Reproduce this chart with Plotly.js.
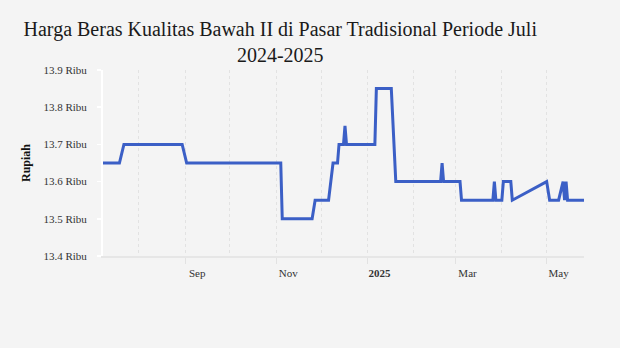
<!DOCTYPE html>
<html>
<head>
<meta charset="utf-8">
<script src="https://cdn.plot.ly/plotly-3.0.1.min.js"></script>
<style>html,body{margin:0;padding:0;background:#f4f4f4;}#chart{width:620px;height:348px;}</style>
</head>
<body>
<div id="chart"></div>
<script>
const dates = [
  "2024-07-08","2024-07-19","2024-07-22","2024-08-30","2024-09-02","2024-11-04","2024-11-05",
  "2024-11-25","2024-11-27","2024-12-06","2024-12-09","2024-12-12","2024-12-13","2024-12-16",
  "2024-12-17","2024-12-18","2025-01-06","2025-01-07","2025-01-17","2025-01-20","2025-02-19",
  "2025-02-20","2025-02-21","2025-03-04","2025-03-05","2025-03-26","2025-03-27","2025-03-28",
  "2025-04-01","2025-04-02","2025-04-07","2025-04-08","2025-05-01","2025-05-03","2025-05-09",
  "2025-05-12","2025-05-13","2025-05-14","2025-05-15","2025-05-26"
];
const prices = [
  13650,13650,13700,13700,13650,13650,13500,
  13500,13550,13550,13650,13650,13700,13700,
  13750,13700,13700,13850,13850,13600,13600,
  13650,13600,13600,13550,13550,13600,13550,
  13550,13600,13600,13550,13600,13550,13550,
  13600,13550,13600,13550,13550
];
const xTickVals = ["2024-09-01","2024-11-01","2025-01-01","2025-03-01","2025-05-01"];
const xTickText = ["Sep","Nov","<b>2025</b>","Mar","May"];
const yTickVals = [13400,13500,13600,13700,13800,13900];
const yTickText = ["13.4 Ribu","13.5 Ribu","13.6 Ribu","13.7 Ribu","13.8 Ribu","13.9 Ribu"];
const titleText = "Harga Beras Kualitas Bawah II di Pasar Tradisional Periode Juli<br>2024-2025";
const yTitle = "Rupiah";

const trace = {
  x: dates, y: prices, type: "scatter", mode: "lines",
  line: {color: "#3b5fc6", width: 3},
  hoverinfo: "skip"
};

const layout = {
  width: 620, height: 348,
  paper_bgcolor: "#f4f4f4", plot_bgcolor: "#f4f4f4",
  margin: {l: 103, r: 36, t: 70, b: 92},
  showlegend: false,
  title: {
    text: titleText,
    font: {family: "Liberation Serif", size: 20, color: "#1a1a1a"},
    x: 0.452, xanchor: "center", xref: "container",
    y: 0.896, yanchor: "top"
  },
  xaxis: {
    type: "date",
    tickmode: "array", tickvals: xTickVals, ticktext: xTickText,
    ticklabelshift: 12,
    tickfont: {family: "Liberation Serif", size: 11, color: "#333"},
    ticks: "outside", ticklen: 6, tickcolor: "#e2e2e2", tickwidth: 1,
    showgrid: true, gridcolor: "#e2e2e2", griddash: "dot", gridwidth: 1,
    minor: {dtick: "M1", tick0: "2024-08-01", showgrid: true, gridcolor: "#e2e2e2", griddash: "dot", gridwidth: 1, ticks: ""},
    showline: true, linecolor: "#e6e6e6", linewidth: 2,
    zeroline: false, fixedrange: true
  },
  yaxis: {
    range: [13400, 13900],
    tickmode: "array", tickvals: yTickVals, ticktext: yTickText,
    tickfont: {family: "Liberation Serif", size: 11, color: "#333"},
    ticks: "outside", ticklen: 4, tickcolor: "#ffffff", tickwidth: 1.5,
    ticklabelstandoff: 8,
    showgrid: false, zeroline: false,
    showline: true, linecolor: "#ffffff", linewidth: 2,
    title: {text: "<b>" + yTitle + "</b>", font: {family: "Liberation Serif", size: 12, color: "#111"}, standoff: 10},
    fixedrange: true
  }
};

Plotly.newPlot("chart", [trace], layout, {displayModeBar: false, staticPlot: true});
</script>
</body>
</html>
